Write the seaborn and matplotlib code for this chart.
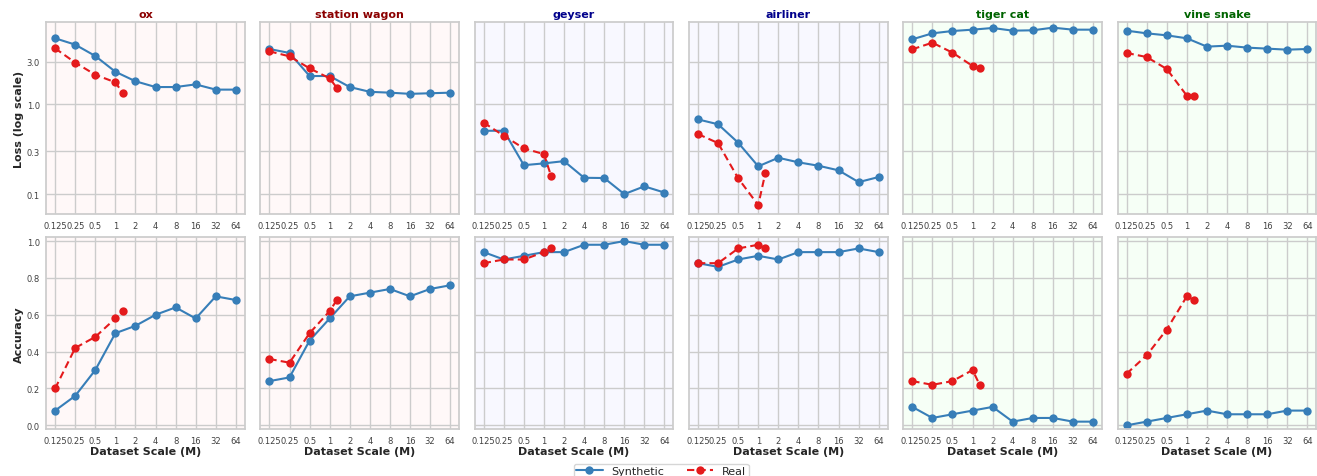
import numpy as np
import pandas as pd
import matplotlib
matplotlib.use("Agg")
import matplotlib.pyplot as plt
import seaborn as sns
from matplotlib.ticker import FixedLocator, FixedFormatter, NullLocator

# ---- data ----
classes = ["ox", "station wagon", "geyser", "airliner", "tiger cat", "vine snake"]
title_colors = ["darkred", "darkred", "darkblue", "darkblue", "darkgreen", "darkgreen"]
panel_bg = ["#fff8f8", "#fff8f8", "#f8f8ff", "#f8f8ff", "#f6fff6", "#f6fff6"]

syn_scales = [0.125, 0.25, 0.5, 1, 2, 4, 8, 16, 32, 64]
real_scales = [0.125, 0.25, 0.5, 1, 1.28]
tick_labels = ["0.125", "0.25", "0.5", "1", "2", "4", "8", "16", "32", "64"]

syn_loss = {
    "ox": [5.45, 4.63, 3.46, 2.31, 1.81, 1.56, 1.56, 1.67, 1.46, 1.46],
    "station wagon": [4.14, 3.74, 2.07, 2.07, 1.56, 1.38, 1.35, 1.31, 1.33, 1.35],
    "geyser": [0.508, 0.508, 0.210, 0.220, 0.233, 0.152, 0.151, 0.100, 0.122, 0.104],
    "airliner": [0.68, 0.60, 0.374, 0.204, 0.254, 0.226, 0.207, 0.184, 0.136, 0.155],
    "tiger cat": [5.31, 6.19, 6.57, 6.80, 7.10, 6.63, 6.69, 7.16, 6.80, 6.80],
    "vine snake": [6.63, 6.19, 5.88, 5.45, 4.40, 4.51, 4.29, 4.18, 4.07, 4.14],
}
real_loss = {
    "ox": [4.21, 2.92, 2.14, 1.76, 1.35],
    "station wagon": [3.90, 3.43, 2.52, 1.95, 1.53],
    "geyser": [0.625, 0.447, 0.323, 0.279, 0.159],
    "airliner": [0.467, 0.37, 0.150, 0.0754, 0.173],
    "tiger cat": [4.11, 4.87, 3.77, 2.68, 2.56],
    "vine snake": [3.74, 3.37, 2.48, 1.25, 1.24],
}
syn_acc = {
    "ox": [0.08, 0.16, 0.30, 0.50, 0.54, 0.60, 0.64, 0.58, 0.70, 0.68],
    "station wagon": [0.24, 0.26, 0.46, 0.58, 0.70, 0.72, 0.74, 0.70, 0.74, 0.76],
    "geyser": [0.94, 0.90, 0.92, 0.94, 0.94, 0.98, 0.98, 1.00, 0.98, 0.98],
    "airliner": [0.88, 0.86, 0.90, 0.92, 0.90, 0.94, 0.94, 0.94, 0.96, 0.94],
    "tiger cat": [0.10, 0.04, 0.06, 0.08, 0.10, 0.02, 0.04, 0.04, 0.02, 0.02],
    "vine snake": [0.00, 0.02, 0.04, 0.06, 0.08, 0.06, 0.06, 0.06, 0.08, 0.08],
}
real_acc = {
    "ox": [0.20, 0.42, 0.48, 0.58, 0.62],
    "station wagon": [0.36, 0.34, 0.50, 0.62, 0.68],
    "geyser": [0.88, 0.90, 0.90, 0.94, 0.96],
    "airliner": [0.88, 0.88, 0.96, 0.98, 0.96],
    "tiger cat": [0.24, 0.22, 0.24, 0.30, 0.22],
    "vine snake": [0.28, 0.38, 0.52, 0.70, 0.68],
}

loss_ticks = [0.1, 0.3, 1.0, 3.0]
loss_tick_labels = ["0.1", "0.3", "1.0", "3.0"]

BLUE = "#377eb8"
RED = "#e41a1c"

sns.set_theme(style="whitegrid")
plt.rcParams["font.family"] = ["DejaVu Sans"]

fig, axes = plt.subplots(2, 6, figsize=(13.17, 4.77), dpi=100, sharey="row")
fig.subplots_adjust(left=0.035, right=0.9995, top=0.951, bottom=0.0985,
                    wspace=0.078, hspace=0.122)


def build(cls, syn, real):
    df1 = pd.DataFrame({"scale": syn_scales, "value": syn[cls], "Source": "Synthetic"})
    df2 = pd.DataFrame({"scale": real_scales, "value": real[cls], "Source": "Real"})
    return pd.concat([df1, df2], ignore_index=True)


for row, (syn, real) in enumerate([(syn_loss, real_loss), (syn_acc, real_acc)]):
    for col, cls in enumerate(classes):
        ax = axes[row, col]
        df = build(cls, syn, real)
        sns.lineplot(data=df, x="scale", y="value", hue="Source", style="Source",
                     palette={"Synthetic": BLUE, "Real": RED},
                     dashes={"Synthetic": "", "Real": (3.5, 2)},
                     markers={"Synthetic": "o", "Real": "o"},
                     markersize=6, markeredgewidth=0, linewidth=1.5,
                     ax=ax, legend=(row == 0 and col == 0))
        ax.set_facecolor(panel_bg[col])
        ax.set_xscale("log", base=2)
        ax.xaxis.set_major_locator(FixedLocator(syn_scales))
        ax.xaxis.set_major_formatter(FixedFormatter(tick_labels))
        ax.xaxis.set_minor_locator(NullLocator())
        ax.tick_params(axis="both", labelsize=6, length=0, colors=".25")
        ax.tick_params(axis="x", pad=5)
        ax.tick_params(axis="y", pad=4.5, labelleft=(col == 0))
        for sp in ax.spines.values():
            sp.set_color(".8")
        ax.set_ylabel("")
        ax.set_xlabel("")
        if row == 0:
            ax.set_title(cls, fontsize=8, fontweight="bold", color=title_colors[col], pad=4)
            ax.set_yscale("log")
            ax.yaxis.set_major_locator(FixedLocator(loss_ticks))
            ax.yaxis.set_major_formatter(FixedFormatter(loss_tick_labels))
            ax.yaxis.set_minor_locator(NullLocator())
            ax.set_ylim(0.06, 8.2)
        else:
            ax.set_ylim(-0.02, 1.02)
            ax.set_xlabel("Dataset Scale (M)", fontsize=8, fontweight="bold", labelpad=1)

axes[0, 0].set_ylabel("Loss (log scale)", fontsize=8, fontweight="bold", labelpad=2)
axes[1, 0].set_ylabel("Accuracy", fontsize=8, fontweight="bold", labelpad=2)

handles, labels = axes[0, 0].get_legend_handles_labels()
axes[0, 0].get_legend().remove()
fig.legend(handles, labels, loc="upper center", bbox_to_anchor=(0.502, 0.037),
           ncol=2, fontsize=8, frameon=True, handlelength=2.4, columnspacing=2,
           borderpad=0.2)

fig.savefig("out.png", dpi=100)
